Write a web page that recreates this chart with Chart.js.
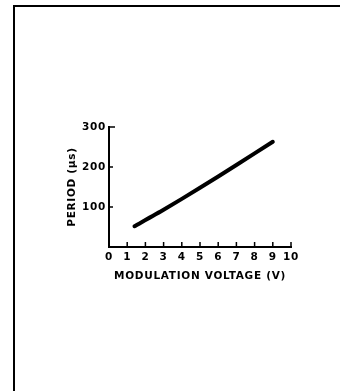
<!DOCTYPE html>
<html>
<head>
<meta charset="utf-8">
<script src="https://cdn.jsdelivr.net/npm/chart.js@4/dist/chart.umd.min.js"></script>
<style>
  html, body { margin: 0; padding: 0; background: #fff; }
  #wrap { position: relative; width: 340px; height: 391px; }
  #frame { position: absolute; left: 13px; top: 5px; right: 0; bottom: 0;
           border-left: 2px solid #000; border-top: 2px solid #000; }
  canvas { position: absolute; left: 0; top: 0; }
</style>
</head>
<body>
<div id="wrap">
  <div id="frame"></div>
  <canvas id="myChartPeriod" width="340" height="391"></canvas>
</div>
<script>
// modulation voltage (V) vs period (us)
const voltage = [1.4, 3, 5, 7, 9];
const period = [52, 93, 148, 205, 263];
const xTicks = [0, 1, 2, 3, 4, 5, 6, 7, 8, 9, 10];
const yTicks = [100, 200, 300];

const points = voltage.map((v, i) => ({ x: v, y: period[i] }));

const FONT = { family: "'DejaVu Sans'", size: 10.5, weight: 'bold' };

// slightly wider lettering
const spacing = {
    id: 'spacing',
    beforeDraw(chart) { chart.ctx.letterSpacing = '0.7px'; }
};

// little inward tick marks, like the drawn axes
const inwardTicks = {
    id: 'inwardTicks',
    afterDraw(chart) {
        const ctx = chart.ctx;
        const xs = chart.scales.x, ys = chart.scales.y;
        const a = chart.chartArea;
        ctx.save();
        ctx.strokeStyle = '#000';
        ctx.lineWidth = 1.5;
        ctx.beginPath();
        xTicks.forEach(t => {
            if (t === 0) return;
            const px = xs.getPixelForValue(t);
            ctx.moveTo(px, a.bottom);
            ctx.lineTo(px, a.bottom - 5);
        });
        yTicks.forEach(t => {
            const py = ys.getPixelForValue(t);
            ctx.moveTo(a.left, py);
            ctx.lineTo(a.left + (t === 300 ? 6 : 4), py);
        });
        ctx.stroke();
        ctx.restore();
    }
};

const canvas = document.getElementById("myChartPeriod");
const ctx = canvas.getContext("2d");

const chart = new Chart(ctx, {
    type: "scatter",
    data: {
        datasets: [{
            data: points,
            showLine: true,
            borderColor: '#000',
            borderWidth: 4,
            borderCapStyle: 'round',
            pointRadius: 0,
            tension: 0.2,
            fill: false
        }]
    },
    options: {
        responsive: false,
        animation: false,
        layout: { padding: { left: 66, top: 127, right: 49, bottom: 108 } },
        plugins: { legend: { display: false }, tooltip: { enabled: false } },
        scales: {
            x: {
                type: 'linear',
                min: 0, max: 10,
                afterBuildTicks: (s) => { s.ticks = xTicks.map(v => ({ value: v })); },
                afterFit: (s) => { s.height = 36; },
                grid: { display: false, drawTicks: false },
                border: { display: true, color: '#000', width: 2 },
                ticks: { color: '#000', font: FONT, padding: 4, maxRotation: 0 },
                title: {
                    display: true, text: 'MODULATION VOLTAGE (V)',
                    color: '#000', font: FONT, padding: 0
                }
            },
            y: {
                min: 0, max: 300,
                afterBuildTicks: (s) => { s.ticks = yTicks.map(v => ({ value: v })); },
                afterFit: (s) => { s.width = 43; },
                grid: { display: false, drawTicks: false },
                border: { display: true, color: '#000', width: 2 },
                ticks: { color: '#000', font: FONT, padding: 3 },
                title: {
                    display: true, text: 'PERIOD (µs)',
                    color: '#000', font: FONT, padding: 0
                }
            }
        }
    },
    plugins: [spacing, inwardTicks]
});
</script>
</body>
</html>
